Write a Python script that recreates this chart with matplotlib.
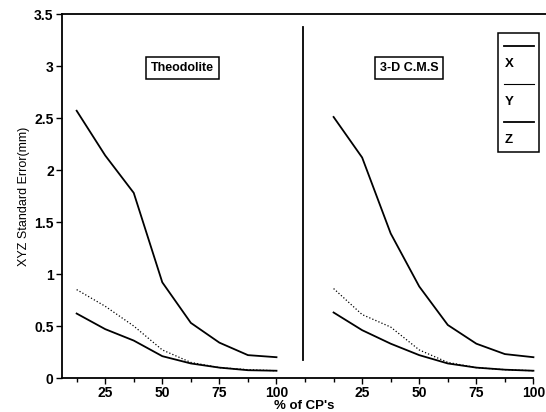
import numpy as np
import matplotlib.pyplot as plt
from matplotlib.patches import Rectangle
from matplotlib.lines import Line2D

plt.rcParams['font.family'] = ['Liberation Sans', 'DejaVu Sans']

# % of control points
pct = [12.5, 25, 37.5, 50, 62.5, 75, 87.5, 100]

# theodolite panel
theo_z = [2.57, 2.14, 1.78, 0.92, 0.53, 0.34, 0.22, 0.20]
theo_y = [0.85, 0.69, 0.50, 0.27, 0.15, 0.10, 0.08, 0.07]
theo_x = [0.62, 0.47, 0.36, 0.21, 0.14, 0.10, 0.075, 0.07]

# 3-D C.M.S panel
cms_z = [2.51, 2.12, 1.39, 0.88, 0.51, 0.33, 0.23, 0.20]
cms_y = [0.86, 0.61, 0.49, 0.27, 0.15, 0.10, 0.08, 0.07]
cms_x = [0.63, 0.46, 0.33, 0.22, 0.14, 0.10, 0.08, 0.07]

tick_labels = ['25', '50', '75', '100']
offset = 112.5  # right panel shifted along the shared x axis

fig = plt.figure(figsize=(5.46, 4.12), dpi=100)
ax = fig.add_axes([0.1136, 0.0825, 0.8864, 0.8835])

p = np.array(pct)
for xs, ys, style in [(p, theo_z, '-'), (p, theo_y, ':'), (p, theo_x, '-'),
                      (p + offset, cms_z, '-'), (p + offset, cms_y, ':'), (p + offset, cms_x, '-')]:
    lw = 1.3 if style == '-' else 0.9
    ax.plot(xs, ys, style, color='black', lw=lw)

ax.set_xlim(6.1, 218)
ax.set_ylim(0, 3.5)

major = [25, 50, 75, 100]
ax.set_xticks(major + [m + offset for m in major])
ax.set_xticklabels(tick_labels + tick_labels, fontsize=10, fontweight='bold')
minor = [12.5, 37.5, 62.5, 87.5, 112.5]
ax.set_xticks(minor + [m + offset for m in minor[:-1]], minor=True)
ax.set_yticks([0, 0.5, 1, 1.5, 2, 2.5, 3, 3.5])
ax.set_yticklabels(['0', '0.5', '1', '1.5', '2', '2.5', '3', '3.5'], fontsize=10, fontweight='bold')
ax.tick_params(axis='both', which='major', direction='out', length=4, width=1, pad=2)
ax.tick_params(axis='x', which='minor', direction='out', length=3, width=1)

ax.spines['right'].set_visible(False)
ax.spines['bottom'].set_bounds(6.1, 212.5)
for s in ['left', 'top', 'bottom']:
    ax.spines[s].set_linewidth(1.3)

# panel divider
ax.axvline(111.5, ymin=0.05, ymax=0.964, color='black', lw=1.3)

ax.set_ylabel('XYZ Standard Error(mm)', fontsize=9, labelpad=3)
ax.set_xlabel("% of CP's", fontsize=9.5, fontweight='bold', labelpad=0)

box = dict(boxstyle='square,pad=0.4', fc='white', ec='black', lw=1.1)
ax.text(59, 2.98, 'Theodolite', fontsize=9, fontweight='bold', ha='center', va='center', bbox=box)
ax.text(158, 2.98, '3-D C.M.S', fontsize=9, fontweight='bold', ha='center', va='center', bbox=box)

# legend drawn by hand: line above each label
tr = ax.transAxes
ax.add_patch(Rectangle((0.900, 0.621), 0.085, 0.327, transform=tr, fill=False, ec='black', lw=1.1))
for i, lab in enumerate(['X', 'Y', 'Z']):
    yl = 0.912 - i * 0.104
    ax.add_line(Line2D([0.913, 0.975], [yl, yl], transform=tr, color='black',
                       lw=1.3 if lab != 'Y' else 0.8))
    ax.text(0.914, yl - 0.05, lab, transform=tr, fontsize=9.5, fontweight='bold', va='center')

fig.savefig('out.png', dpi=100)
